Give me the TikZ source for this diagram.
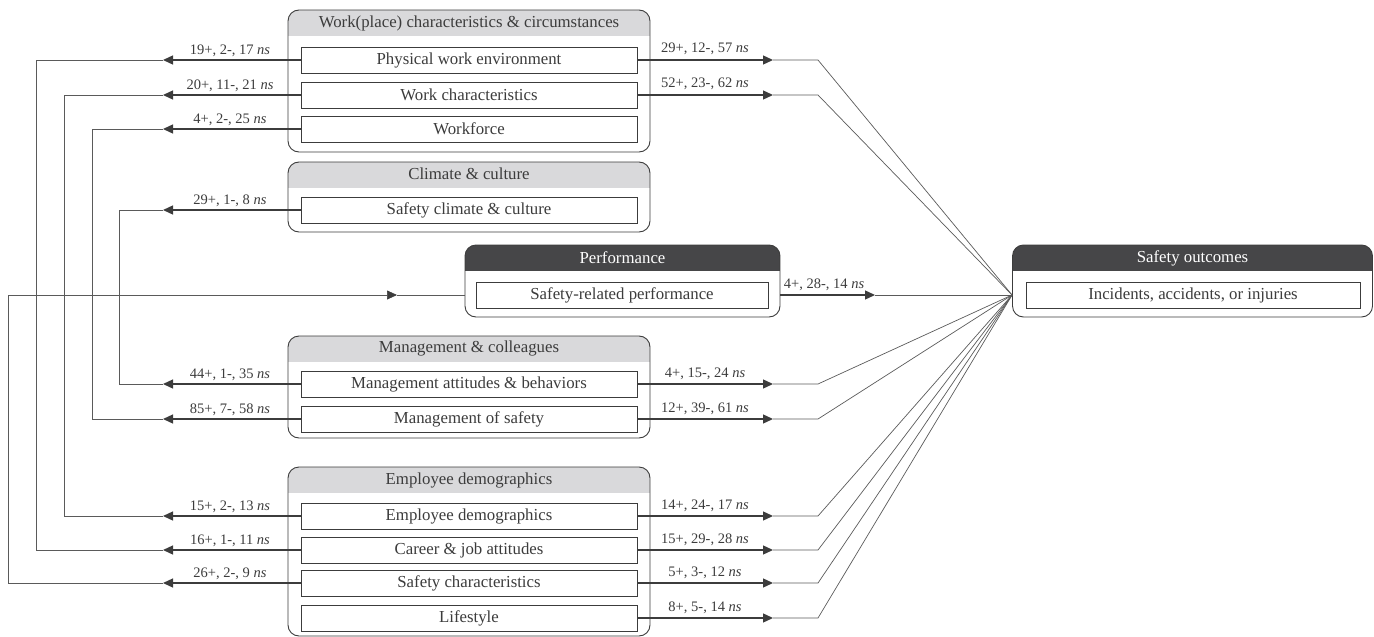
\documentclass[tikz,border=0pt]{standalone}
\usepackage{fontspec}
\setmainfont{Liberation Serif}
\usetikzlibrary{arrows.meta}
\definecolor{ink}{HTML}{3C3C3C}
\definecolor{hdark}{HTML}{464648}
\definecolor{hlight}{HTML}{D9D9DB}
\definecolor{thinc}{HTML}{5A5A5A}
\tikzset{
  grp/.style={draw=ink, line width=0.9pt, rounded corners=11pt, inner sep=0pt},
  lighthead/.style={path picture={\fill[hlight, sharp corners] (path picture bounding box.north west) rectangle ([yshift=-26pt]path picture bounding box.north east);}},
  darkhead/.style={path picture={\fill[hdark, sharp corners] (path picture bounding box.north west) rectangle ([yshift=-26pt]path picture bounding box.north east);}},
  htext/.style={font=\fontsize{16.8}{18}\selectfont, text=ink, inner sep=0pt},
  hwhite/.style={font=\fontsize{16.8}{18}\selectfont, text=white, inner sep=0pt},
  item/.style={draw=ink, line width=0.9pt, fill=white, minimum height=26pt, inner sep=0pt, font=\fontsize{16.8}{18}\selectfont, text=ink},
  lbl/.style={font=\fontsize{14.5}{16}\selectfont, text=ink, inner sep=0pt, anchor=base},
  darkc/.style={draw=ink, line width=1.3pt, -{Triangle[length=10pt,width=9pt]}},
  thinl/.style={draw=thinc, line width=0.7pt},
  tip/.style={-{Triangle[length=10pt,width=9pt,color=ink]}},
}
\begin{document}
\begin{tikzpicture}[x=1pt, y=-1pt]
\useasboundingbox (0,0) rectangle (1374,637);
% helper x positions
\coordinate (lx) at (163,0);
\coordinate (rx) at (773,0);
\coordinate (rk) at (818,0);
\coordinate (v0) at (8,0);
\coordinate (v1) at (36,0);
\coordinate (v2) at (64,0);
\coordinate (v3) at (92,0);
\coordinate (v4) at (119,0);
\coordinate (pax) at (397,0);
\coordinate (prx) at (875,0);

% Group 1
\node[grp, lighthead, minimum width=362pt, minimum height=142pt] (g1) at (469,81) {};
\node[htext] (g1h) at (469,23) {Work(place) characteristics \& circumstances};
\node[item, minimum width=336pt] (phys) at (469,60) {Physical work environment};
\node[item, minimum width=336pt] (workc) at (469,95) {Work characteristics};
\node[item, minimum width=336pt] (workf) at (469,129) {Workforce};

% Group 2
\node[grp, lighthead, minimum width=362pt, minimum height=70pt] (g2) at (469,197) {};
\node[htext] (g2h) at (469,174) {Climate \& culture};
\node[item, minimum width=336pt] (clim) at (469,210) {Safety climate \& culture};

% Performance
\node[grp, darkhead, minimum width=315pt, minimum height=72pt] (pg) at (622.5,281) {};
\node[hwhite] (pgh) at (622.5,258) {Performance};
\node[item, minimum width=292pt] (pi) at (622,295) {Safety-related performance};

% Outcomes
\node[grp, darkhead, minimum width=360pt, minimum height=72pt] (og) at (1192.5,281) {};
\node[hwhite] (ogh) at (1192.5,258) {Safety outcomes};
\node[item, minimum width=334pt] (oi) at (1193,295) {Incidents, accidents, or injuries};
\coordinate (conv) at (og.west |- oi.west);

% Management
\node[grp, lighthead, minimum width=362pt, minimum height=102pt] (g3) at (469,387) {};
\node[htext] (g3h) at (469,348) {Management \& colleagues};
\node[item, minimum width=336pt] (matt) at (469,384) {Management attitudes \& behaviors};
\node[item, minimum width=336pt] (msaf) at (469,419) {Management of safety};

% Employee
\node[grp, lighthead, minimum width=362pt, minimum height=169pt] (g4) at (469,551.5) {};
\node[htext] (g4h) at (469,480) {Employee demographics};
\node[item, minimum width=336pt] (edem) at (469,516) {Employee demographics};
\node[item, minimum width=336pt] (car) at (469,550) {Career \& job attitudes};
\node[item, minimum width=336pt] (schar) at (469,583) {Safety characteristics};
\node[item, minimum width=336pt] (life) at (469,618) {Lifestyle};

% Left loops
\draw[thinl] (phys.west -| lx) -- (phys.west -| v1) |- (car.west -| lx);
\draw[thinl] (workc.west -| lx) -- (workc.west -| v2) |- (edem.west -| lx);
\draw[thinl] (workf.west -| lx) -- (workf.west -| v3) |- (msaf.west -| lx);
\draw[thinl] (clim.west -| lx) -- (clim.west -| v4) |- (matt.west -| lx);
\draw[thinl, tip] (schar.west -| lx) -- (schar.west -| v0) |- (pi.west -| pax);
\draw[thinl] (pi.west -| pax) -- (pg.west |- pi.west);

\foreach \n in {phys,workc,workf,clim,matt,msaf,edem,car,schar}{
  \draw[darkc] (\n.west) -- (\n.west -| lx);
}
% Right connectors
\foreach \n in {phys,workc,matt,msaf,edem,car,schar,life}{
  \draw[darkc] (\n.east) -- (\n.east -| rx);
  \draw[thinl] (\n.east -| rx) -- (\n.east -| rk) -- (conv);
}
\draw[darkc] (pg.east |- pi.east) -- (pi.east -| prx);
\draw[thinl] (pi.east -| prx) -- (conv);

% Left labels
\node[lbl] (l1) at (230,54) {19+, 2-, 17 \textit{ns}};
\node[lbl] (l2) at (230,89) {20+, 11-, 21 \textit{ns}};
\node[lbl] (l3) at (230,123) {4+, 2-, 25 \textit{ns}};
\node[lbl] (l4) at (230,204) {29+, 1-, 8 \textit{ns}};
\node[lbl] (l5) at (230,378) {44+, 1-, 35 \textit{ns}};
\node[lbl] (l6) at (230,413) {85+, 7-, 58 \textit{ns}};
\node[lbl] (l7) at (230,510) {15+, 2-, 13 \textit{ns}};
\node[lbl] (l8) at (230,544) {16+, 1-, 11 \textit{ns}};
\node[lbl] (l9) at (230,577) {26+, 2-, 9 \textit{ns}};
% Right labels
\node[lbl] (r1) at (705,52) {29+, 12-, 57 \textit{ns}};
\node[lbl] (r2) at (705,87) {52+, 23-, 62 \textit{ns}};
\node[lbl] (r3) at (705,377) {4+, 15-, 24 \textit{ns}};
\node[lbl] (r4) at (705,412) {12+, 39-, 61 \textit{ns}};
\node[lbl] (r5) at (705,509) {14+, 24-, 17 \textit{ns}};
\node[lbl] (r6) at (705,543) {15+, 29-, 28 \textit{ns}};
\node[lbl] (r7) at (705,576) {5+, 3-, 12 \textit{ns}};
\node[lbl] (r8) at (705,611) {8+, 5-, 14 \textit{ns}};
\node[lbl] (rp) at (824,288) {4+, 28-, 14 \textit{ns}};
\end{tikzpicture}
\end{document}
